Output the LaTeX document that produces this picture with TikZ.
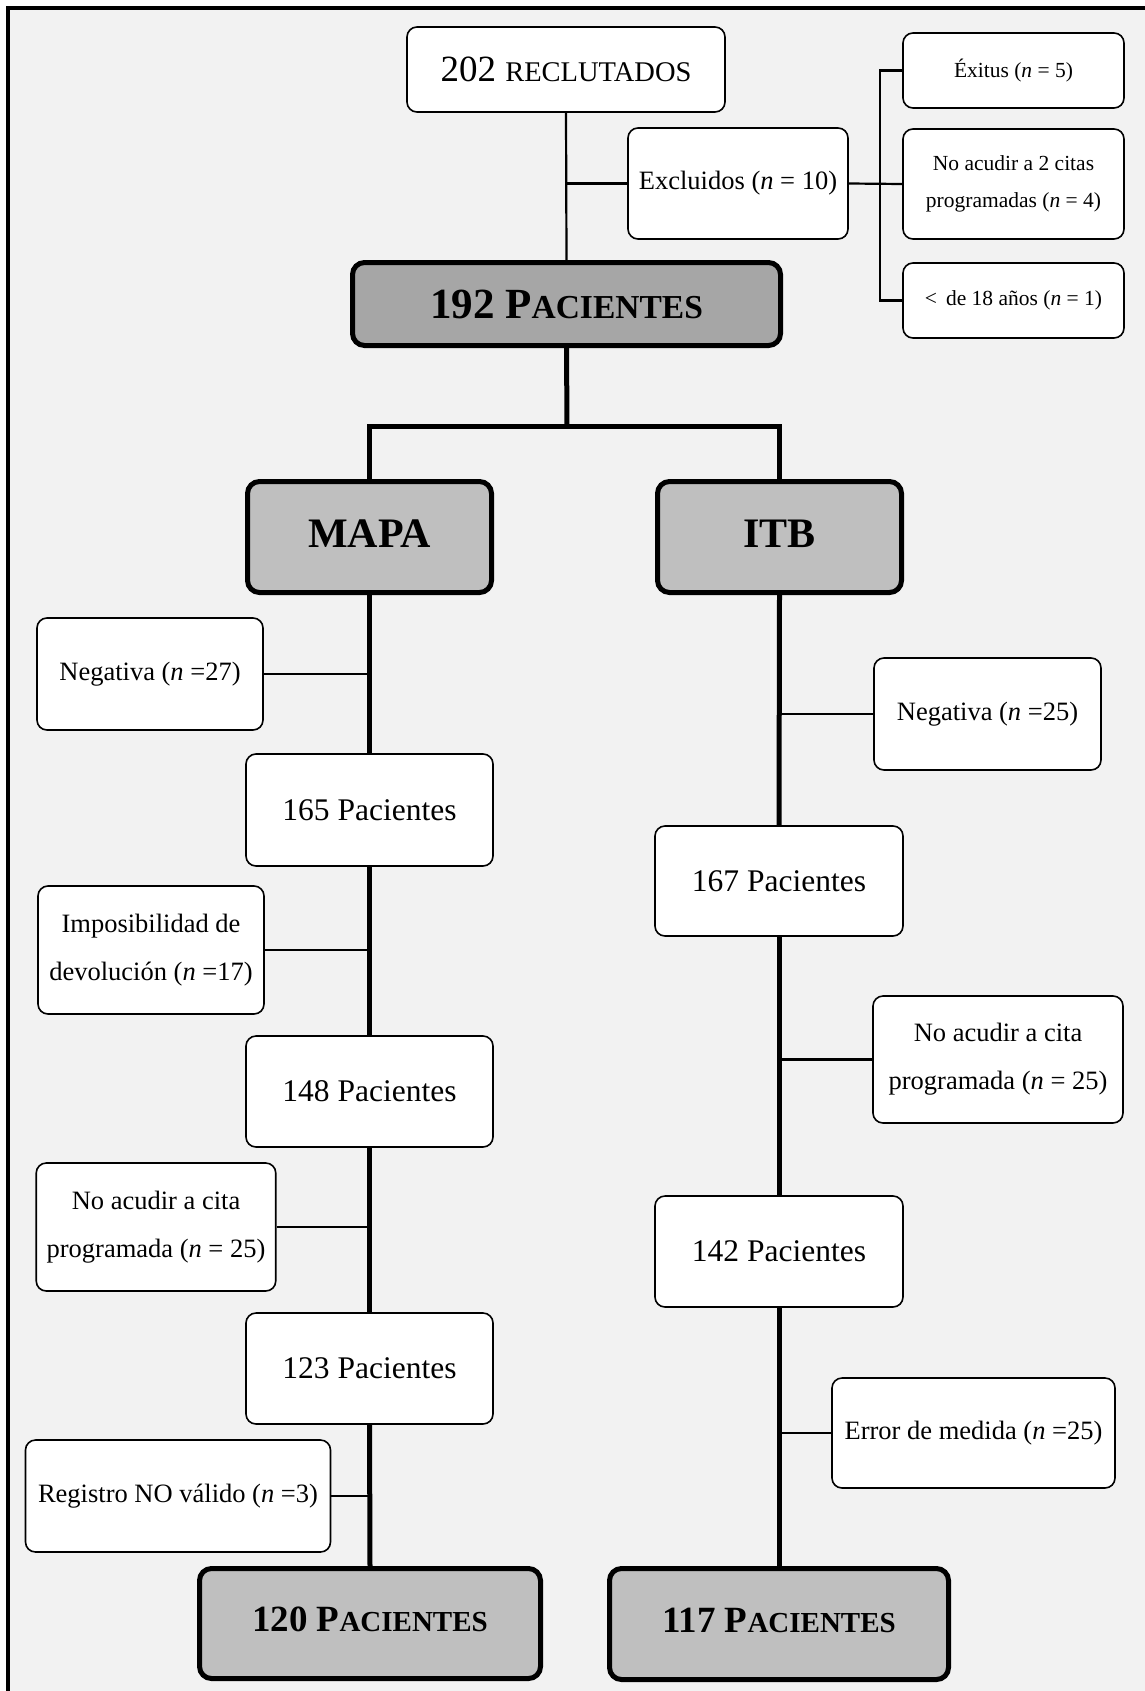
\documentclass[tikz,border=0pt]{standalone}
\usepackage{fontspec}
\setmainfont{Liberation Serif}
\usetikzlibrary{calc}
\definecolor{bgc}{HTML}{F2F2F2}
\definecolor{dgray}{HTML}{A6A6A6}
\definecolor{lgray}{HTML}{BFBFBF}
\newcommand{\nn}{\textit{n}}
\begin{document}
\begin{tikzpicture}[x=1pt,y=-1pt,
  box/.style={draw=black, line width=1.6pt, fill=white, rounded corners=10pt, align=center, inner sep=0pt},
  gbox/.style={draw=black, line width=5pt, fill=lgray, rounded corners=12pt, align=center, inner sep=0pt},
  thinline/.style={line width=2.2pt},
  thickline/.style={line width=5pt, line join=miter},
  smallf/.style={font=\fontsize{21.5}{37}\selectfont},
  midf/.style={font=\fontsize{26.5}{48}\selectfont},
  pacf/.style={font=\fontsize{31.5}{36}\selectfont},
]
\useasboundingbox (0,0) rectangle (1145,1691);
\fill[white] (0,0) rectangle (1145,1691);
\fill[bgc] (8,8) rectangle (1145,1691);
\draw[line width=4pt, line join=miter] (8,1691) -- (8,8) -- (1145,8);

% top part
\node[box, minimum width=318pt, minimum height=85pt, font=\fontsize{37}{42}\selectfont] (rec) at (566,69.5) {202 {\fontsize{28.5}{32}\selectfont RECLUTADOS}};
\node[box, midf, minimum width=220pt, minimum height=111pt] (excl) at (738,183.5) {Excluidos (\nn{} = 10)};
\node[box, smallf, minimum width=221pt, minimum height=75pt] (exit) at (1013.5,70.5) {Éxitus (\nn{} = 5)};
\node[box, smallf, minimum width=221pt, minimum height=110pt] (noac2) at (1013.5,184) {No acudir a 2 citas\\programadas (\nn{} = 4)};
\node[box, smallf, minimum width=221pt, minimum height=75pt] (menor) at (1013.5,300.5) {<\, de 18 años (\nn{} = 1)};
\node[gbox, fill=dgray, minimum width=428pt, minimum height=83pt, font=\fontsize{43}{48}\selectfont\bfseries] (p192) at (566.5,304) {192 P{\fontsize{33.5}{38}\selectfont ACIENTES}};

\coordinate (bx) at (880,184);
\draw[thinline] (rec.south) -- (p192.north);
\draw[thinline] (excl.west) -- (excl.west -| rec.south);
\draw[thinline] (excl.east) -- (noac2.west);
\draw[thinline] (exit.west) -| (bx) |- (menor.west);

% branches
\node[gbox, minimum width=244pt, minimum height=111pt, font=\fontsize{42}{48}\selectfont\bfseries] (mapa) at (369.5,537) {\raisebox{6pt}{MAPA}};
\node[gbox, minimum width=244pt, minimum height=111pt, font=\fontsize{42}{48}\selectfont\bfseries] (itb) at (779.5,537) {\raisebox{6pt}{ITB}};
\coordinate (split) at (567,426);
\draw[thickline] (p192.south) -- (split);
\draw[thickline] (mapa.north) |- (split) -| (itb.north);

% MAPA column
\node[box, midf, minimum width=226pt, minimum height=112pt] (neg27) at (150,674) {Negativa (\nn{} =27)};
\node[box, pacf, minimum width=247pt, minimum height=112pt] (p165) at (369.5,810) {165 Pacientes};
\node[box, midf, minimum width=226pt, minimum height=128pt] (impos) at (151,950) {Imposibilidad de\\devolución (\nn{} =17)};
\node[box, pacf, minimum width=247pt, minimum height=111pt] (p148) at (369.5,1091.5) {148 Pacientes};
\node[box, midf, minimum width=239.5pt, minimum height=128pt] (noacL) at (156,1227) {No acudir a cita\\programada (\nn{} = 25)};
\node[box, pacf, minimum width=247pt, minimum height=111pt] (p123) at (369.5,1368.5) {123 Pacientes};
\node[box, midf, minimum width=305pt, minimum height=112pt] (regis) at (178,1496) {Registro NO válido (\nn{} =3)};
\node[gbox, minimum width=341pt, minimum height=110pt, font=\fontsize{37}{42}\selectfont\bfseries] (p120) at (370,1623.5) {\raisebox{8pt}{120 P{\fontsize{29}{34}\selectfont ACIENTES}}};

\draw[thickline] (mapa.south) -- (p165.north);
\draw[thickline] (p165.south) -- (p148.north);
\draw[thickline] (p148.south) -- (p123.north);
\draw[thickline] (p123.south) -- (p120.north);
\draw[thinline] (neg27.east) -- (neg27.east -| mapa.south);
\draw[thinline] (impos.east) -- (impos.east -| mapa.south);
\draw[thinline] (noacL.east) -- (noacL.east -| mapa.south);
\draw[thinline] (regis.east) -- (regis.east -| mapa.south);

% ITB column
\node[box, midf, minimum width=227pt, minimum height=112pt] (neg25) at (987.5,714) {Negativa (\nn{} =25)};
\node[box, pacf, minimum width=248pt, minimum height=110pt] (p167) at (779,881) {167 Pacientes};
\node[box, midf, minimum width=250pt, minimum height=127pt] (noacR) at (998,1059.5) {No acudir a cita\\programada (\nn{} = 25)};
\node[box, pacf, minimum width=248pt, minimum height=111pt] (p142) at (779,1251.5) {142 Pacientes};
\node[box, midf, minimum width=283pt, minimum height=110pt] (error) at (973.5,1433) {Error de medida (\nn{} =25)};
\node[gbox, minimum width=339pt, minimum height=111pt, font=\fontsize{37}{42}\selectfont\bfseries] (p117) at (779,1624) {\raisebox{8pt}{117 P{\fontsize{29}{34}\selectfont ACIENTES}}};

\draw[thickline] (itb.south) -- (p167.north);
\draw[thickline] (p167.south) -- (p142.north);
\draw[thickline] (p142.south) -- (p117.north);
\draw[thinline] (neg25.west) -- (neg25.west -| itb.south);
\draw[thinline] (noacR.west) -- (noacR.west -| itb.south);
\draw[thinline] (error.west) -- (error.west -| itb.south);
\end{tikzpicture}
\end{document}
